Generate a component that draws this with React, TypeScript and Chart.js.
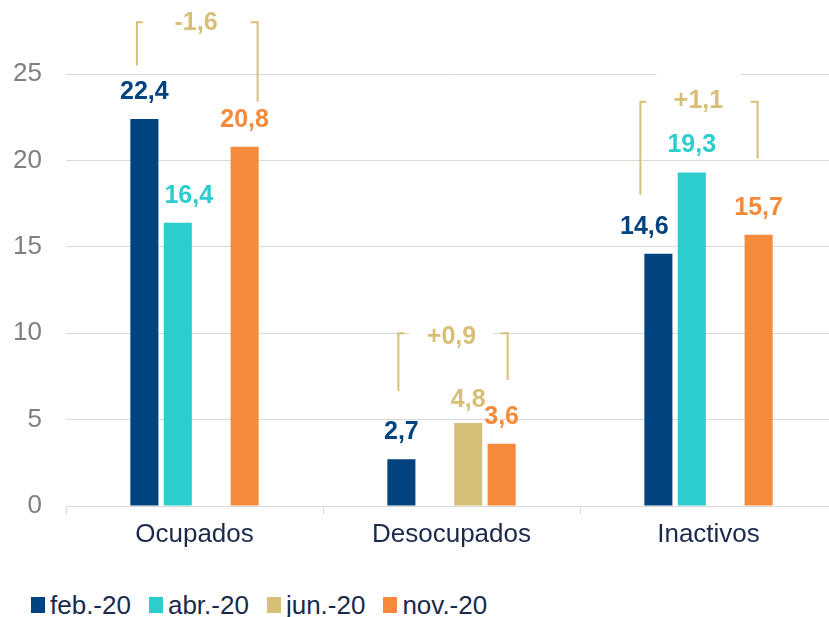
import React, { useEffect, useRef } from "react";
import { Chart, registerables } from "chart.js";

Chart.register(...registerables);

const categories = ["Ocupados", "Desocupados", "Inactivos"];
const seriesNames = ["feb.-20", "abr.-20", "jun.-20", "nov.-20"];
const feb20: (number | null)[] = [22.4, 2.7, 14.6];
const abr20: (number | null)[] = [16.4, null, 19.3];
const jun20: (number | null)[] = [null, 4.8, null];
const nov20: (number | null)[] = [20.8, 3.6, 15.7];
const yTickValues = [0, 5, 10, 15, 20, 25];

// change annotations (feb.-20 -> nov.-20), heights in value units
const deltaLabels = ["-1,6", "+0,9", "+1,1"];
const deltaTextY = [27.95, 9.8, 23.45];
const bracketTopY = [28.0, 10.0, 23.4];
const bracketLeftBottomY = [25.5, 6.65, 18.0];
const bracketRightBottomY = [23.4, 7.3, 20.1];

const COLORS = ["#00437F", "#2DCDCD", "#D8BF77", "#F68A3B"];
const TAN = "#D8BF77";
const GRID = "#D9D9D9";
const NAVY = "#1B2A4A";
const FONT = "'Liberation Sans', Arial, sans-serif";

// small manual label placement tweaks (pixels): key = "category-dataset"
const labelNudge: Record<string, [number, number]> = {
  "0-1": [11, 0],
  "2-0": [-14, 0],
  "1-2": [0, 4],
};
const bracketLeftDx = [-7.5, -3, -18];
const bracketRightDx = [13, 6, -1];
const deltaTextDx = [1.5, 0, -10];

const fmt = (v: number) => v.toFixed(1).replace(".", ",");

const annotationPlugin = {
  id: "deltaBrackets",
  beforeDatasetsDraw(chart: any) {
    const ctx = chart.ctx;
    const y = chart.scales.y;
    const x = chart.scales.x;
    const febMeta = chart.getDatasetMeta(0);
    const novMeta = chart.getDatasetMeta(3);
    ctx.save();
    for (let i = 0; i < categories.length; i++) {
      const cx = x.getPixelForValue(i) + deltaTextDx[i];
      const ty = y.getPixelForValue(deltaTextY[i]);
      ctx.fillStyle = "#FFFFFF";
      ctx.fillRect(cx - 42, ty - 30, 84, 60);
      const lx = febMeta.data[i].x + bracketLeftDx[i];
      const rx = novMeta.data[i].x + bracketRightDx[i];
      const top = y.getPixelForValue(bracketTopY[i]);
      const lb = y.getPixelForValue(bracketLeftBottomY[i]);
      const rb = y.getPixelForValue(bracketRightBottomY[i]);
      ctx.strokeStyle = TAN;
      ctx.lineWidth = 2;
      ctx.beginPath();
      ctx.moveTo(lx, lb);
      ctx.lineTo(lx, top);
      ctx.lineTo(lx + 6, top);
      ctx.moveTo(rx, rb);
      ctx.lineTo(rx, top);
      ctx.lineTo(rx - 7, top);
      ctx.stroke();
      ctx.fillStyle = TAN;
      ctx.font = `bold 25px ${FONT}`;
      ctx.textAlign = "center";
      ctx.textBaseline = "middle";
      ctx.fillText(deltaLabels[i], cx, ty);
    }
    ctx.restore();
  },
};

const valueLabelPlugin = {
  id: "valueLabels",
  afterDatasetsDraw(chart: any) {
    const ctx = chart.ctx;
    ctx.save();
    ctx.font = `bold 25px ${FONT}`;
    ctx.textAlign = "center";
    ctx.textBaseline = "middle";
    chart.data.datasets.forEach((ds: any, di: number) => {
      const meta = chart.getDatasetMeta(di);
      meta.data.forEach((el: any, i: number) => {
        const v = ds.data[i];
        if (v === null || v === undefined) return;
        const [dx, dy] = labelNudge[`${i}-${di}`] || [0, 0];
        ctx.fillStyle = COLORS[di];
        ctx.fillText(fmt(v), el.x + dx, el.y - 27 + dy);
      });
    });
    ctx.restore();
  },
};

export default function App() {
  const ref = useRef<HTMLCanvasElement | null>(null);

  useEffect(() => {
    if (!ref.current) return;
    const all = [feb20, abr20, jun20, nov20];
    const chart = new Chart(ref.current, {
      type: "bar",
      data: {
        labels: categories,
        datasets: all.map((d, i) => ({
          label: seriesNames[i],
          data: d,
          backgroundColor: COLORS[i],
          borderWidth: 0,
          categoryPercentage: 0.52,
          barPercentage: 0.84,
        })),
      },
      options: {
        responsive: false,
        animation: false,
        devicePixelRatio: 1,
        layout: { padding: { top: 5, right: 0, bottom: 0, left: 0 } },
        plugins: {
          legend: { display: false },
          tooltip: { enabled: false },
        },
        scales: {
          x: {
            grid: {
              display: true,
              drawOnChartArea: false,
              drawTicks: true,
              tickLength: 8,
              color: GRID,
              offset: true,
            },
            border: { display: true, color: GRID },
            ticks: {
              color: NAVY,
              font: { family: FONT, size: 26 },
              padding: 5,
              maxRotation: 0,
            },
            afterFit: (s: any) => {
              s.height = 44;
              s.paddingLeft = 0;
              s.paddingRight = 0;
            },
          },
          y: {
            min: 0,
            max: 29,
            grid: { color: GRID, drawTicks: false },
            border: { display: false },
            ticks: {
              color: "#7F7F7F",
              font: { family: FONT, size: 26 },
              padding: 24,
              stepSize: 5,
            },
            afterBuildTicks: (s: any) => {
              s.ticks = yTickValues.map((v) => ({ value: v }));
            },
            afterFit: (s: any) => {
              s.width = 66;
              s.paddingTop = 0;
              s.paddingBottom = 0;
            },
          },
        },
      },
      plugins: [annotationPlugin, valueLabelPlugin],
    });
    return () => chart.destroy();
  }, []);

  return (
    <div
      style={{
        position: "absolute",
        left: 0,
        top: 0,
        width: 829,
        height: 617,
        overflow: "hidden",
        background: "#fff",
      }}
    >
      <canvas
        ref={ref}
        width={837}
        height={550}
        style={{ position: "absolute", left: 0, top: 0 }}
      />
      <div
        style={{
          position: "absolute",
          left: 31,
          top: 590,
          display: "flex",
          alignItems: "center",
          fontFamily: FONT,
          fontSize: 26,
          color: NAVY,
          lineHeight: "30px",
        }}
      >
        {seriesNames.map((n, i) => (
          <div
            key={n}
            style={{ display: "flex", alignItems: "center", marginRight: 18 }}
          >
            <span
              style={{
                display: "inline-block",
                width: 14,
                height: 16,
                background: COLORS[i],
                marginRight: 5,
              }}
            />
            <span>{n}</span>
          </div>
        ))}
      </div>
    </div>
  );
}
